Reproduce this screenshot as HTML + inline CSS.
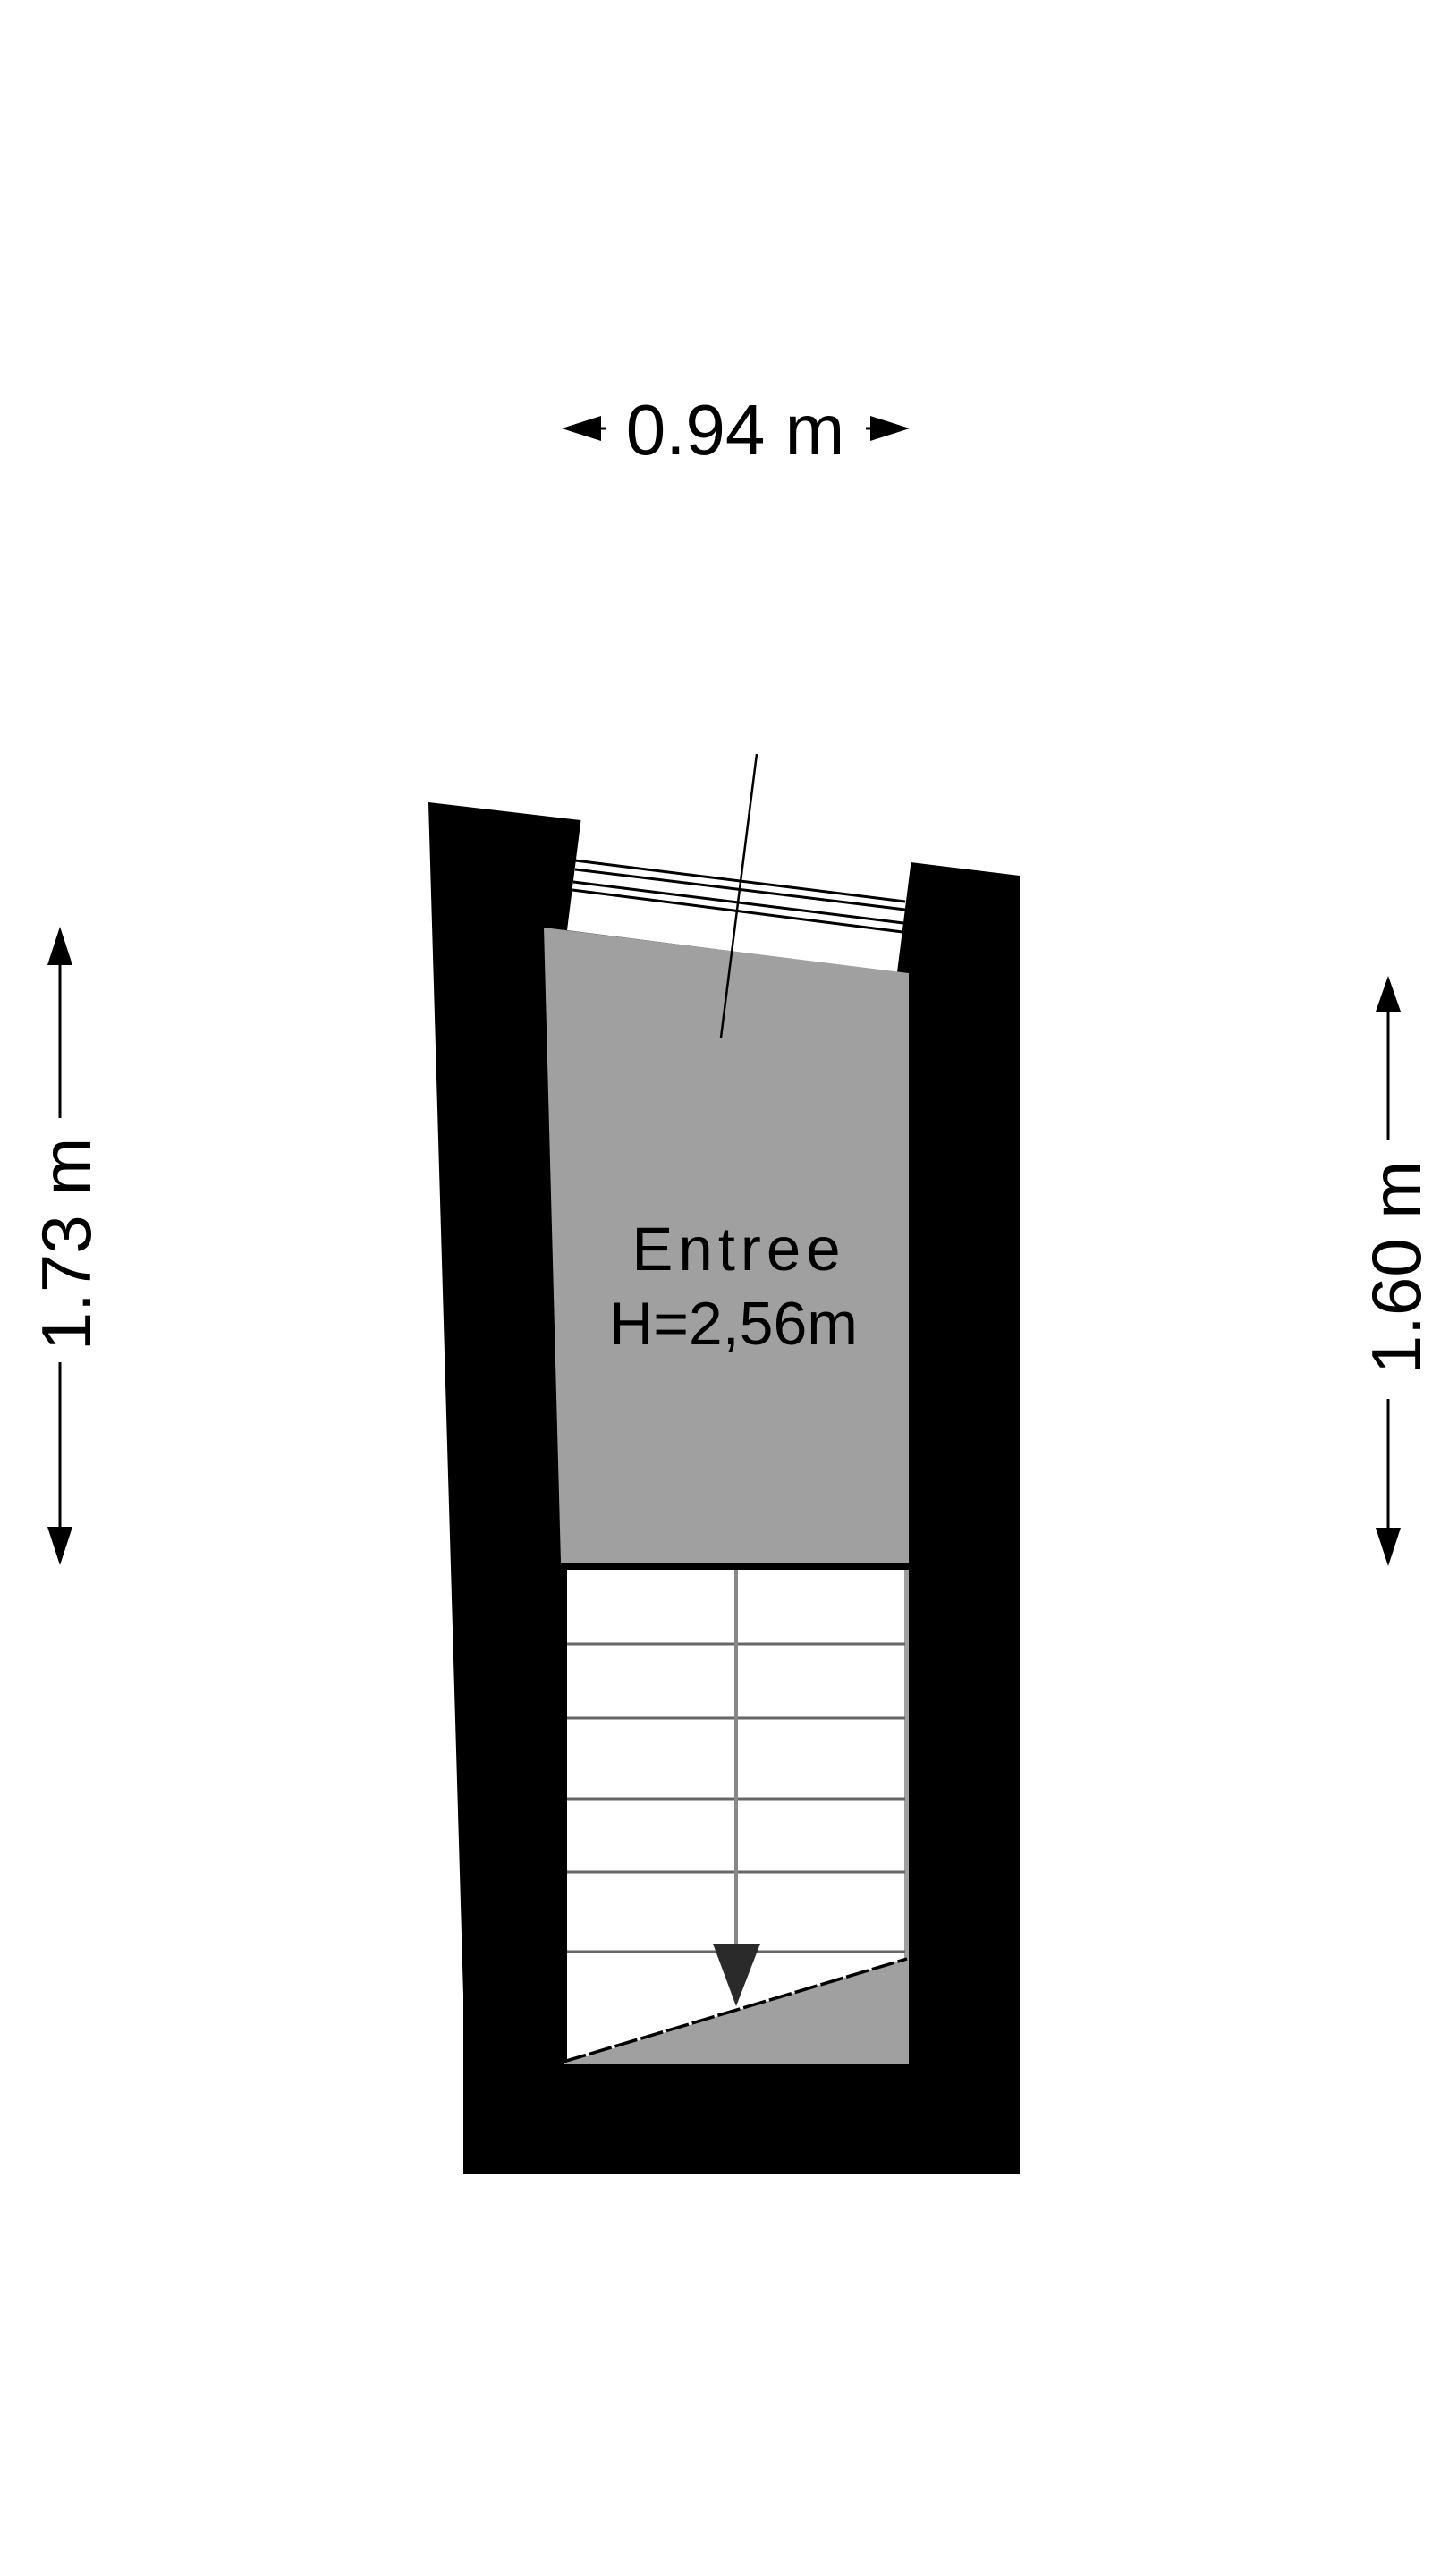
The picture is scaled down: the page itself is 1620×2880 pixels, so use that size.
<!DOCTYPE html>
<html><head><meta charset="utf-8"><style>html,body{margin:0;padding:0;background:#fff}svg{display:block}</style></head>
<body>
<svg width="1620" height="2880" viewBox="0 0 1620 2880" xmlns="http://www.w3.org/2000/svg" font-family="Liberation Sans, Arial, sans-serif">
<rect width="1620" height="2880" fill="#fff"/>
<!-- walls -->
<polygon points="479,897 649,917 1018,964 1140,979 1140,2431 518,2431 518,2231" fill="#000"/>
<!-- window opening -->
<polygon points="651,905 1020,952 1003,1087 634,1040" fill="#fff"/>
<g stroke="#000" stroke-width="3">
<line x1="643" y1="962" x2="1012" y2="1008"/>
<line x1="643" y1="972" x2="1012" y2="1017"/>
<line x1="641" y1="986" x2="1010" y2="1032"/>
<line x1="640" y1="995" x2="1009" y2="1042"/>
</g>
<!-- room -->
<polygon points="608,1037 1016,1088 1016,1747 627,1747" fill="#a0a0a0"/>
<line x1="846" y1="843" x2="806" y2="1160" stroke="#000" stroke-width="2.5"/>
<text x="826" y="1420" font-size="69" text-anchor="middle" letter-spacing="6">Entree</text>
<text x="820" y="1503" font-size="68" text-anchor="middle">H=2,56m</text>
<!-- stairs -->
<rect x="634" y="1755" width="378" height="553" fill="#fff"/>
<rect x="1011" y="1755" width="5" height="553" fill="#a0a0a0"/>
<g stroke="#666" stroke-width="3">
<line x1="634" y1="1838" x2="1012" y2="1838"/>
<line x1="634" y1="1921" x2="1012" y2="1921"/>
<line x1="634" y1="2011" x2="1012" y2="2011"/>
<line x1="634" y1="2093" x2="1012" y2="2093"/>
<line x1="634" y1="2182" x2="1012" y2="2182"/>
</g>
<line x1="823" y1="1755" x2="823" y2="2180" stroke="#888" stroke-width="4"/>
<polygon points="630,2307 1016,2189 1016,2308 630,2308" fill="#a0a0a0"/>
<line x1="630" y1="2305" x2="1014" y2="2190" stroke="#000" stroke-width="3.5" stroke-dasharray="26,4"/>
<polygon points="797,2173 850,2173 823,2243" fill="#2a2a2a"/>
<!-- top dimension -->
<polygon points="628,479 672,465 672,493" fill="#000"/>
<line x1="672" y1="479" x2="677" y2="479" stroke="#000" stroke-width="3"/>
<text x="822" y="508" font-size="80" text-anchor="middle">0.94 m</text>
<polygon points="1017,479 973,465 973,493" fill="#000"/>
<line x1="968" y1="479" x2="973" y2="479" stroke="#000" stroke-width="3"/>
<!-- side dimensions -->
<g stroke="#000" stroke-width="3">
<line x1="67" y1="1075" x2="67" y2="1250"/>
<line x1="67" y1="1523" x2="67" y2="1710"/>
<line x1="1552" y1="1128" x2="1552" y2="1275"/>
<line x1="1552" y1="1564" x2="1552" y2="1712"/>
</g>
<polygon points="67,1036 53,1079 81,1079" fill="#000"/>
<polygon points="67,1750 53,1707 81,1707" fill="#000"/>
<text transform="translate(73,1391) rotate(-90)" y="28" font-size="78" text-anchor="middle">1.73 m</text>
<polygon points="1552,1091 1538,1131 1566,1131" fill="#000"/>
<polygon points="1552,1751 1538,1708 1566,1708" fill="#000"/>
<text transform="translate(1560,1417) rotate(-90)" y="28" font-size="78" text-anchor="middle">1.60 m</text>
</svg>
</body></html>
